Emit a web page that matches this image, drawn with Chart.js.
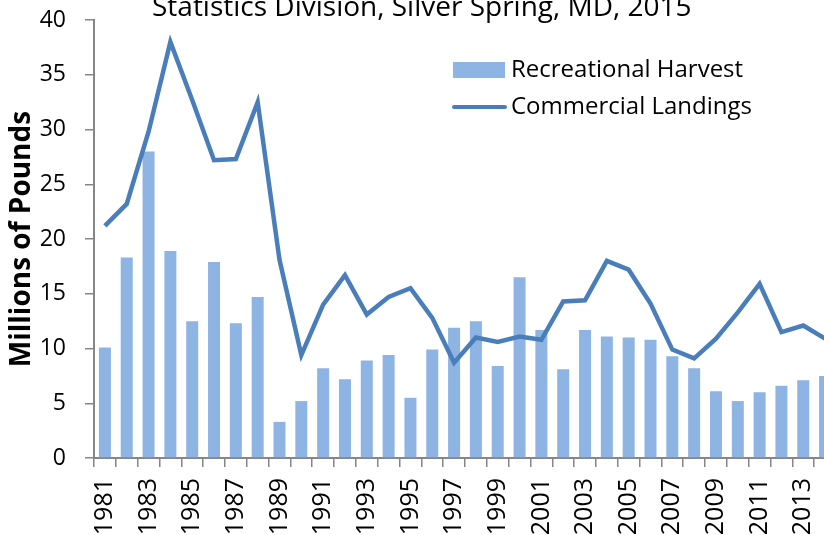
<!DOCTYPE html>
<html>
<head>
<meta charset="utf-8">
<script src="https://cdn.jsdelivr.net/npm/chart.js@4/dist/chart.umd.min.js"></script>
<style>
html,body{margin:0;padding:0;overflow:hidden;background:#fff;width:824px;height:535px;}
canvas{display:block;}
</style>
</head>
<body>
<canvas id="c" width="836" height="535"></canvas>
<script>
const years = ["1981","1982","1983","1984","1985","1986","1987","1988","1989","1990",
  "1991","1992","1993","1994","1995","1996","1997","1998","1999","2000",
  "2001","2002","2003","2004","2005","2006","2007","2008","2009","2010",
  "2011","2012","2013","2014"];
const recreationalHarvest = [10.1,18.3,28.0,18.9,12.5,17.9,12.3,14.7,3.3,5.2,
  8.2,7.2,8.9,9.4,5.5,9.9,11.9,12.5,8.4,16.5,
  11.7,8.1,11.7,11.1,11.0,10.8,9.3,8.2,6.1,5.2,
  6.0,6.6,7.1,7.5];
const commercialLandings = [21.2,23.2,29.8,38.0,32.7,27.2,27.3,32.5,18.1,9.4,
  14.0,16.7,13.1,14.7,15.5,12.8,8.7,11.0,10.6,11.1,
  10.8,14.3,14.4,18.0,17.2,14.1,9.9,9.1,10.9,13.3,
  15.9,11.5,12.1,10.9];
const yTicks = [0,5,10,15,20,25,30,35,40];
const seriesNames = ["Recreational Harvest","Commercial Landings"];
const titleText = "Statistics Division, Silver Spring, MD, 2015";
const yTitle = "Millions of Pounds";

const BAR = "#8EB4E3";
const LINE = "#4A7EBB";
const AXIS = "#868686";
const FONT = "'Open Sans', sans-serif";

const overlay = {
  id: "overlay",
  afterDraw(chart) {
    const ctx = chart.ctx;
    ctx.save();
    ctx.fillStyle = "#000";
    ctx.font = "28px " + FONT;
    ctx.textAlign = "left";
    ctx.textBaseline = "alphabetic";
    ctx.fillText(titleText, 152, 16);
    // legend
    ctx.fillStyle = BAR;
    ctx.fillRect(453, 62, 52, 16);
    ctx.strokeStyle = LINE;
    ctx.lineWidth = 4;
    ctx.lineCap = "round";
    ctx.beginPath();
    ctx.moveTo(454, 107);
    ctx.lineTo(505, 107);
    ctx.stroke();
    ctx.fillStyle = "#000";
    ctx.font = "24px " + FONT;
    ctx.textBaseline = "middle";
    ctx.fillText(seriesNames[0], 511, 70);
    ctx.fillText(seriesNames[1], 511, 107);
    ctx.restore();
  }
};

new Chart(document.getElementById("c"), {
  data: {
    labels: years,
    datasets: [
      {
        type: "line",
        label: seriesNames[1],
        data: commercialLandings,
        borderColor: LINE,
        backgroundColor: LINE,
        borderWidth: 4.5,
        pointRadius: 0,
        tension: 0,
        order: 1
      },
      {
        type: "bar",
        label: seriesNames[0],
        data: recreationalHarvest,
        backgroundColor: BAR,
        borderWidth: 0,
        barPercentage: 0.55,
        categoryPercentage: 1.0,
        order: 2
      }
    ]
  },
  options: {
    responsive: false,
    devicePixelRatio: 1,
    animation: false,
    layout: { padding: { top: 20, left: 0, right: 0, bottom: 0 } },
    plugins: { legend: { display: false }, tooltip: { enabled: false }, title: { display: false } },
    scales: {
      x: {
        type: "category",
        offset: true,
        grid: { display: true, offset: true, drawOnChartArea: false, drawTicks: true, tickLength: 9, color: AXIS, lineWidth: 1.5 },
        border: { display: true, color: AXIS, width: 2 },
        ticks: {
          autoSkip: false,
          minRotation: 90,
          maxRotation: 90,
          padding: 11,
          color: "#000",
          font: { family: FONT, size: 25 },
          callback: function(v, i) { return i % 2 === 0 ? years[i] : ""; }
        },
        afterFit(scale) {
          scale.height = 77;
          scale.paddingLeft = 0; scale.paddingRight = 0;
          scale.paddingTop = 0; scale.paddingBottom = 0;
        }
      },
      y: {
        min: 0,
        max: 40,
        afterBuildTicks(scale) { scale.ticks = yTicks.map(v => ({ value: v })); },
        grid: { display: true, drawOnChartArea: false, drawTicks: true, tickLength: 9, color: AXIS, lineWidth: 1.5 },
        border: { display: true, color: AXIS, width: 2 },
        ticks: {
          padding: 19,
          color: "#000",
          font: { family: FONT, size: 23 }
        },
        title: {
          display: true,
          text: yTitle,
          color: "#000",
          font: { family: FONT, size: 28, weight: "bold" },
          padding: { top: 5, bottom: 0 }
        },
        afterFit(scale) {
          scale.width = 94;
          scale.paddingTop = 0; scale.paddingBottom = 0;
          scale.paddingLeft = 0; scale.paddingRight = 0;
        }
      }
    }
  },
  plugins: [overlay]
});
</script>
</body>
</html>
